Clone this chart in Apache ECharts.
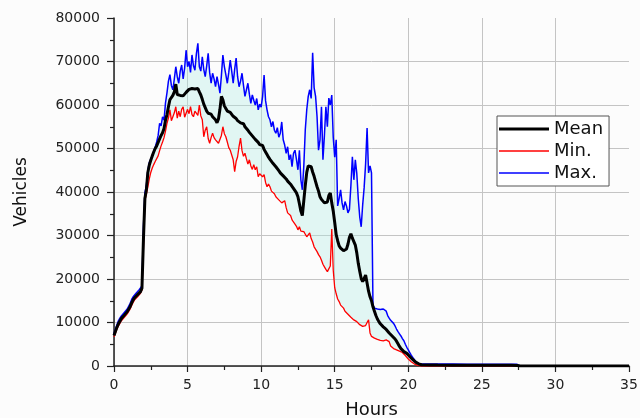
<!DOCTYPE html>
<html>
<head>
<meta charset="utf-8">
<script src="https://cdn.jsdelivr.net/npm/echarts@6/dist/echarts.min.js"></script>
<style>
  html, body { margin: 0; padding: 0; background: #fcfcfc; }
  #chart { width: 640px; height: 418px; }
</style>
</head>
<body>
<div id="chart"></div>
<script>
// time grid: 0.1 h steps from 0 to 21 h, then a sparse tail to 35 h
var STEP = 0.1;
var denseCount = 211;
var tailHours = [21.5, 22, 23, 24, 25, 26, 27, 27.4, 27.6, 30, 35];

// one row per hour (x.0 .. x.9)
var meanValues = [
  7000, 8000, 8900, 9700, 10300, 10900, 11300, 11700, 12100, 12500,
  12900, 13700, 14500, 15200, 15700, 16100, 16400, 16700, 17100, 17900,
  29000, 38500, 40500, 44500, 46200, 47300, 48300, 49200, 50000, 50600,
  51400, 52200, 53000, 53600, 54600, 56500, 57800, 59600, 61200, 61600,
  62200, 63000, 64800, 62400, 62800, 62200, 62600, 62100, 62500, 62900,
  63200, 63600, 63300, 63800, 63400, 63700, 63300, 63800, 63000, 62300,
  61300, 60200, 59400, 58600, 58100, 57700, 57900, 57300, 57600, 56600,
  55900, 56800, 59000, 62000, 61200, 59800, 59200, 58600, 58900, 58300,
  57900, 57400, 57600, 56900, 56400, 56600, 55900, 55500, 55700, 55000,
  54600, 54200, 53700, 53500, 52900, 52600, 52100, 51800, 51400, 50900,
  50600, 50700, 49800, 49200, 48600, 48000, 47500, 47100, 46600, 46200,
  45800, 45600, 44900, 44400, 44100, 43700, 43300, 43000, 42500, 42200,
  41800, 41300, 40900, 40300, 39800, 38900, 37300, 35600, 34600, 38000,
  41500, 44500, 46000, 46300, 45800, 44600, 43600, 42400, 41200, 40200,
  38900, 38300, 37900, 37500, 37300, 37700, 39200, 39800, 37500, 35600,
  33000, 30200, 28800, 27600, 27100, 26800, 26500, 26700, 26900, 28000,
  29600, 30400, 29400, 28600, 27800, 26000, 23600, 21800, 20100, 19400,
  19800, 20900, 21300, 17200, 15900, 15000, 13600, 12600, 11600, 10800,
  10200, 9700, 9300, 9000, 8700, 8400, 8000, 7600, 7200, 6900,
  6600, 6200, 5700, 5100, 4500, 4000, 3600, 3300, 3100, 2900,
  2600, 2200, 1800, 1500, 1200, 900, 700, 500, 400, 300,
  250,
  250, 220, 200, 200, 180, 170, 150, 100, 0, 0, 0
];

var minValues = [
  6700, 7600, 8500, 9200, 9800, 10400, 10800, 11200, 11600, 12000,
  12400, 13100, 13900, 14600, 15200, 15600, 15900, 16200, 16700, 17500,
  27000, 38000, 39500, 41200, 43000, 44500, 45500, 46300, 47000, 47400,
  48300, 49500, 50600, 51500, 52500, 54000, 55800, 57000, 58900, 56400,
  56600, 58200, 59600, 57000, 58600, 57300, 59000, 59600, 57200, 57500,
  59000, 58000, 59600, 57800, 57300, 58600, 58900, 57600, 60000, 57500,
  56600, 52700, 54200, 55000, 52300, 51200, 52500, 53500, 52500, 52000,
  51800, 51200, 51200, 53000, 55000, 53400, 52700, 51500, 50200, 49600,
  48500, 47400, 44700, 47000, 48100, 50500, 52400, 49500, 48200, 48900,
  47600, 46400, 47400, 46000, 45200, 46300, 45100, 45800, 43500, 44200,
  43800, 43500, 44000, 42200, 41200, 41800, 41200, 40200, 40500, 39600,
  38900, 39300, 38200, 38600, 37500, 37500, 38000, 36400, 35200, 35600,
  34600, 33600, 33900, 32600, 32100, 31300, 32000, 31000, 30600, 30900,
  30300, 29700, 29900, 30600, 29300, 28500, 27400, 27000, 26300, 25600,
  25100, 24300, 23400, 22800, 22200, 21700, 21400, 23000, 31500, 22000,
  18000, 16600, 15400, 14800, 14000, 13600, 13300, 12600, 12200, 11900,
  11500, 11200, 10900, 10600, 10400, 10200, 9800, 9500, 9200, 9100,
  9000, 9300, 10000, 10600, 7600, 6800, 6600, 6400, 6200, 6100,
  6000, 5900, 5900, 5800, 5700, 6000, 6400, 5600, 4600, 4300,
  4000, 3800, 3700, 3500, 3400, 3300, 3100, 2700, 2400, 2000,
  1600, 1300, 1000, 700, 500, 300, 200, 100, 50, 0,
  0,
  0, 0, 0, 0, 0, 0, 0, 0, 0, 0, 0
];

var maxValues = [
  7400, 8500, 9500, 10400, 11000, 11500, 11900, 12300, 12700, 13100,
  13500, 14400, 15300, 15900, 16300, 16700, 17100, 17500, 17600, 18400,
  32000, 39800, 41500, 45000, 46800, 47600, 48200, 49400, 50300, 51500,
  53000, 55800, 55200, 57300, 56500, 60500, 62800, 65500, 67000, 64500,
  63500, 66000, 68800, 66500, 65000, 67800, 69200, 66000, 68500, 72600,
  68800, 70000, 67500, 71500, 69000, 68000, 71800, 74200, 68800, 67800,
  71100, 68200, 66500, 69000, 71900, 67500, 65000, 67300, 66000, 64200,
  66500, 64800, 62700, 66800, 71500, 68800, 67000, 65000, 67500, 70300,
  67800, 65000, 68200, 70800, 66500, 64200, 65500, 67300, 64500, 62000,
  63500, 65000, 62500, 60400, 62300, 61100, 60000, 61500, 58900, 60200,
  59500, 62000, 66900, 61000, 58900, 57300, 56600, 55000, 56200, 54200,
  53500, 54800, 52600, 53500, 56100, 52000, 50800, 48900, 50400, 47400,
  48600, 45800, 48900, 49600, 47500, 45100, 49600, 42800, 40500, 46000,
  54300, 58900, 62000, 63500, 61500, 72000, 64000, 62000, 57300, 49600,
  52000, 59600, 47400, 53000, 59600, 55000, 61600, 60000, 62300, 52600,
  48000, 52000, 36800, 38500, 40500, 37500, 35900, 37800, 36800, 35200,
  36000, 41500, 48100, 42800, 47400, 44300, 38500, 34300, 32000, 37000,
  41000, 46500, 54700, 44400, 46000, 44400, 14000, 13300, 13500, 13100,
  12900, 13000, 13400, 13100, 13300, 12600, 11600, 11000, 10500, 10100,
  9800, 9200, 8500, 7900, 7400, 6900, 6300, 5800, 5000, 4300,
  3700, 3100, 2500, 2000, 1500, 1000, 700, 550, 500, 450,
  450,
  450, 450, 450, 420, 420, 400, 400, 380, 0, 0, 0
];

var hours = [];
for (var i = 0; i < denseCount; i++) {
  hours.push(Math.round(i * STEP * 10) / 10);
}
hours = hours.concat(tailHours);

function pairs(values) {
  return values.map(function (v, i) { return [hours[i], v]; });
}

// light fill between the min and max curves (the individual runs)
function renderBand(params, api) {
  var pts = [];
  for (var i = 0; i < hours.length; i++) {
    pts.push(api.coord([hours[i], maxValues[i]]));
  }
  for (var j = hours.length - 1; j >= 0; j--) {
    pts.push(api.coord([hours[j], minValues[j]]));
  }
  return {
    type: 'polygon',
    shape: { points: pts },
    style: { fill: 'rgba(175, 236, 226, 0.35)', stroke: null }
  };
}

var FONT = 'DejaVu Sans';
var chart = echarts.init(document.getElementById('chart'));
chart.setOption({
  backgroundColor: '#fcfcfc',
  animation: false,
  grid: { left: 114, right: 11, top: 18, bottom: 52, containLabel: false, outerBoundsMode: 'none' },
  legend: {
    data: [
      { name: 'Mean', icon: 'path://M0 0H50V3H0Z' },
      { name: 'Min.', icon: 'path://M0 0H50V1.4H0Z' },
      { name: 'Max.', icon: 'path://M0 0H50V1.4H0Z' }
    ],
    orient: 'vertical',
    left: 497,
    top: 116,
    itemWidth: 50,
    itemHeight: 14,
    itemGap: 4,
    itemTextGap: 5,
    symbolKeepAspect: true,
    padding: [4, 6, 4, 2],
    borderColor: '#555',
    borderWidth: 1,
    backgroundColor: '#ffffff',
    textStyle: { fontFamily: FONT, fontSize: 18, color: '#111' }
  },
  xAxis: {
    type: 'value',
    min: 0,
    max: 35,
    interval: 5,
    name: 'Hours',
    nameLocation: 'middle',
    nameGap: 35,
    nameTextStyle: { fontFamily: FONT, fontSize: 18, color: '#111' },
    axisLine: { show: true, onZero: false, lineStyle: { color: '#222', width: 1.5 } },
    axisTick: { show: true, inside: false, length: 6, lineStyle: { color: '#222', width: 1.2 } },
    minorTick: { show: true, splitNumber: 2, length: 4, lineStyle: { color: '#222', width: 1.2 } },
    axisLabel: { fontFamily: FONT, fontSize: 14, color: '#222', margin: 12 },
    splitLine: { show: true, showMaxLine: false, lineStyle: { color: '#c4c4c4', width: 1 } }
  },
  yAxis: {
    type: 'value',
    min: 0,
    max: 80000,
    interval: 10000,
    name: 'Vehicles',
    nameLocation: 'middle',
    nameGap: 84,
    nameTextStyle: { fontFamily: FONT, fontSize: 17, color: '#111' },
    axisLine: { show: true, lineStyle: { color: '#222', width: 1.5 } },
    axisTick: { show: true, inside: false, length: 7, lineStyle: { color: '#222', width: 1.2 } },
    minorTick: { show: true, splitNumber: 2, length: 4, lineStyle: { color: '#222', width: 1.2 } },
    axisLabel: {
      fontFamily: FONT, fontSize: 14, color: '#222', margin: 14,
      formatter: function (v) { return String(v); }
    },
    splitLine: { show: true, showMaxLine: false, lineStyle: { color: '#c4c4c4', width: 1 } }
  },
  series: [
    {
      name: 'band',
      type: 'custom',
      silent: true,
      clip: true,
      renderItem: renderBand,
      data: [[0, 0]],
      z: 1
    },
    {
      name: 'Min.',
      type: 'line',
      data: pairs(minValues),
      symbol: 'none',
      lineStyle: { color: '#ff0000', width: 1.3 },
      itemStyle: { color: '#ff0000' },
      z: 2
    },
    {
      name: 'Max.',
      type: 'line',
      data: pairs(maxValues),
      symbol: 'none',
      lineStyle: { color: '#0000ff', width: 1.5 },
      itemStyle: { color: '#0000ff' },
      z: 3
    },
    {
      name: 'Mean',
      type: 'line',
      data: pairs(meanValues),
      symbol: 'none',
      lineStyle: { color: '#000000', width: 3 },
      itemStyle: { color: '#000000' },
      z: 4
    }
  ]
});
</script>
</body>
</html>
